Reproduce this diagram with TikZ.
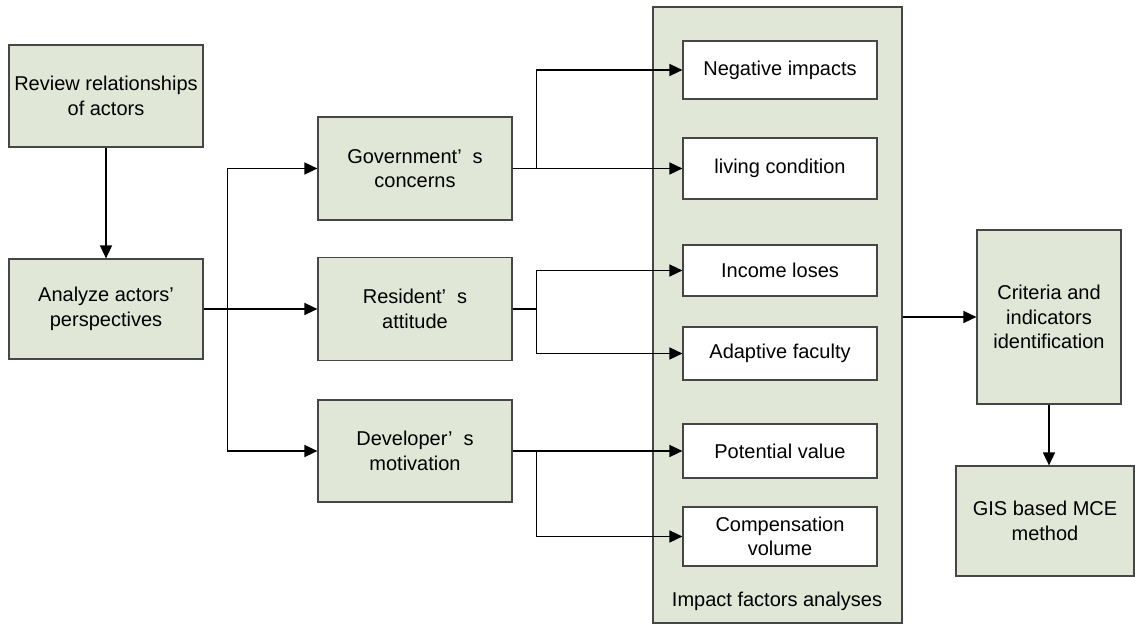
\documentclass[tikz,border=0pt]{standalone}
\usepackage{fontspec}
\setmainfont{Liberation Sans}
\usepackage{tikz}
\usetikzlibrary{arrows.meta,positioning,calc}
\definecolor{boxfill}{RGB}{224,231,215}
\definecolor{boxline}{RGB}{70,70,70}
\tikzset{
  stage/.style={draw=boxline,line width=1.2bp,fill=boxfill,align=center,
    inner sep=0pt,font=\fontsize{20bp}{24.5bp}\selectfont},
  factor/.style={draw=boxline,line width=1.2bp,fill=white,align=center,
    inner sep=0pt,minimum width=194bp,font=\fontsize{20bp}{24.5bp}\selectfont},
  link/.style={line width=1.6bp,-{Triangle[length=13bp,width=12bp]}},
}
\newcommand{\apos}{’\hspace{0.55em}}
\begin{document}
\begin{tikzpicture}[>=Triangle,line join=miter]
\useasboundingbox (0,0) rectangle (1135bp,624bp);
%%
\node (panel) at (777.5bp,309bp) [stage,minimum width=249bp,minimum height=616bp] {};
\node (panellabel) at (777bp,23bp) [font=\fontsize{20bp}{24.5bp}\selectfont] {Impact factors analyses};
%%
\node (review) at (106bp,528bp) [stage,minimum width=194bp,minimum height=102bp] {Review relationships\\of actors};
\node (analyze) at (106bp,315bp) [stage,minimum width=194bp,minimum height=100bp] {Analyze actors\apos\\perspectives};
\node (gov) at (415bp,455.5bp) [stage,minimum width=194bp,minimum height=103bp] {Government\apos s\\concerns};
\node (res) at (415bp,315bp) [stage,minimum width=194bp,minimum height=103bp] {Resident\apos s\\attitude};
\node (dev) at (415bp,173bp) [stage,minimum width=194bp,minimum height=102bp] {Developer\apos s\\motivation};
%%
\node (neg) at (780bp,554bp) [factor,minimum height=58bp] {Negative impacts};
\node (living) at (780bp,455.5bp) [factor,minimum height=61bp] {living condition};
\node (income) at (780bp,353.5bp) [factor,minimum height=51bp] {Income loses};
\node (adaptive) at (780bp,270.5bp) [factor,minimum height=53bp] {Adaptive faculty};
\node (potential) at (780bp,173bp) [factor,minimum height=54bp] {Potential value};
\node (comp) at (780bp,87.5bp) [factor,minimum height=59bp] {Compensation\\volume};
%%
\node (criteria) at (1049bp,307bp) [stage,minimum width=144bp,minimum height=174bp] {Criteria and\\indicators\\identification};
\node (gis) at (1045bp,103bp) [stage,minimum width=178bp,minimum height=110bp] {GIS based MCE\\method};
%%
\draw [link] (review) -- (analyze);
\coordinate (trunk) at ($(analyze.east)+(24bp,0)$);
\draw [link] (analyze.east) -- (trunk) |- (gov.west);
\draw [link] (analyze.east) -- (res.west);
\draw [link] (trunk) |- (dev.west);
%
\coordinate (govfork) at ($(gov.east)+(24bp,0)$);
\draw [link] (gov.east) -- (govfork) |- (neg.west);
\draw [link] (gov.east) -- (living.west);
\coordinate (resfork) at ($(res.east)+(24bp,0)$);
\draw [link] (res.east) -- (resfork) |- (income.west);
\draw [link] (resfork) |- (adaptive.west);
\coordinate (devfork) at ($(dev.east)+(24bp,0)$);
\draw [link] (dev.east) -- (potential.west);
\draw [link] (devfork) |- (comp.west);
%
\draw [link] (panel.east |- criteria.west) -- (criteria.west);
\draw [link] (criteria.south) -- (criteria.south |- gis.north);
%
\end{tikzpicture}
\end{document}
